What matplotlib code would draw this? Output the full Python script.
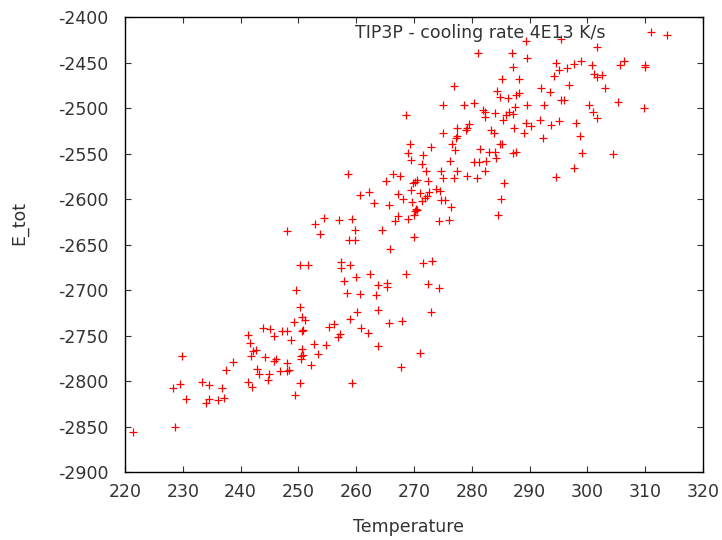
import matplotlib
matplotlib.use('Agg')
import matplotlib.pyplot as plt

# Temperature / E_tot pairs
temperature = [
    221.4, 228.6, 229.9, 228.3, 229.6, 230.6, 233.3, 234.5, 236.8, 234.1,
    234.5, 236.1, 237.2, 237.5, 238.7,
    258.6, 260.6, 254.4, 257.0, 259.3, 252.8, 248.0, 253.8, 259.8, 258.8,
    259.8, 250.2, 251.6, 257.3, 257.3, 258.9, 257.9, 260.0, 249.6, 258.4,
    260.6, 250.2, 250.6, 251.2, 260.2, 258.9, 256.2,
    249.2, 243.8, 245.1, 245.7, 241.2, 247.2, 248.1, 250.6, 250.8, 248.8,
    241.7, 242.7, 242.2, 241.8, 244.3, 245.8, 246.1, 248.1, 242.9, 243.2,
    244.9, 244.8, 246.9, 248.1, 248.3, 250.7, 250.5, 250.8, 250.4, 252.1,
    252.7, 253.4, 254.8, 255.3, 257.2, 256.9, 241.2, 241.9, 250.3, 249.4,
    259.3,
    276.9, 275.1, 278.6, 280.3, 268.7, 277.4, 279.1, 279.0, 279.6, 275.1,
    277.4, 277.2, 276.5, 277.1, 269.3, 269.0, 269.5, 272.9, 271.5, 271.4,
    276.3, 280.4,
    266.3, 267.6, 265.1, 272.0, 274.6, 277.5, 279.1, 269.9, 270.5, 270.2,
    272.5, 275.0, 277.0, 262.2, 269.4, 271.0, 267.3, 272.6, 273.8, 274.5,
    272.2, 271.9, 274.7, 275.4, 268.1, 263.1, 265.6, 269.6, 271.3, 276.4,
    270.5, 270.2, 270.3, 267.3, 266.8, 269.0, 270.0, 274.4, 276.1, 264.5,
    270.0, 265.8, 271.6, 273.2, 262.4, 268.7, 263.7, 265.3, 265.3, 272.5,
    274.4, 263.5, 263.7, 272.9,
    265.7, 268.0, 260.8, 262.1, 263.7, 271.0, 267.7,
    289.3, 295.5, 281.0, 286.9, 289.5, 287.2, 294.6, 297.6, 298.9, 296.5,
    295.1, 294.2, 300.8, 285.3, 288.2, 292.0, 293.6, 296.9, 284.4, 284.8,
    286.3, 287.6, 288.2, 289.5, 292.5, 295.4, 296.0, 300.2, 287.5, 286.5,
    285.9, 285.4, 287.1, 284.0, 282.2, 282.2, 281.9, 289.3, 290.3, 291.8,
    293.7, 295.0, 298.0, 287.3, 289.1, 283.4, 283.9, 292.4, 298.8, 285.3,
    284.8, 281.4, 282.9, 284.1, 284.2, 287.6, 287.2, 299.1, 282.5, 281.3,
    282.2, 280.9, 285.5, 285.0, 284.5, 294.6, 297.6,
    313.8, 301.6, 305.6, 306.4, 310.0, 310.0, 301.1, 301.7, 302.5, 303.0,
    305.3, 309.8, 301.0, 301.7, 304.5,
]

e_tot = [
    -2856.5, -2850.7, -2773.0, -2807.8, -2803.4, -2820.2, -2800.8, -2804.5, -2807.4, -2823.9,
    -2820.2, -2821.0, -2818.8, -2787.6, -2779.5,
    -2572.4, -2596.0, -2620.7, -2623.0, -2621.9, -2628.0, -2635.4, -2638.0, -2634.6, -2644.5,
    -2644.5, -2672.8, -2672.8, -2669.0, -2676.0, -2672.8, -2690.0, -2686.0, -2700.3, -2702.8,
    -2704.0, -2718.2, -2730.0, -2733.0, -2723.7, -2732.0, -2737.0,
    -2735.5, -2741.7, -2742.4, -2751.0, -2749.0, -2745.4, -2745.4, -2745.4, -2743.5, -2755.3,
    -2758.2, -2765.5, -2767.4, -2773.0, -2774.0, -2777.8, -2775.5, -2780.3, -2786.9, -2792.0,
    -2792.0, -2798.6, -2789.4, -2789.4, -2787.5, -2764.4, -2773.0, -2771.0, -2775.8, -2782.0,
    -2759.0, -2770.0, -2760.0, -2741.0, -2748.0, -2751.7, -2801.5, -2807.0, -2802.3, -2815.0,
    -2802.3,
    -2475.6, -2496.8, -2496.8, -2495.0, -2507.8, -2521.7, -2522.4, -2524.3, -2518.0, -2528.0,
    -2530.6, -2533.4, -2539.0, -2546.3, -2540.0, -2549.3, -2557.3, -2542.7, -2551.8, -2561.0,
    -2558.0, -2559.0,
    -2572.4, -2574.6, -2580.0, -2569.0, -2569.0, -2569.0, -2574.6, -2582.6, -2579.6, -2581.8,
    -2580.0, -2577.0, -2577.0, -2592.5, -2590.0, -2593.6, -2594.3, -2592.5, -2588.9, -2591.0,
    -2597.2, -2599.0, -2601.0, -2601.6, -2599.9, -2604.6, -2606.5, -2603.8, -2602.7, -2609.3,
    -2612.0, -2613.7, -2611.0, -2619.2, -2624.0, -2621.9, -2617.5, -2624.7, -2623.6, -2633.9,
    -2642.0, -2654.9, -2669.8, -2668.0, -2682.4, -2682.7, -2694.5, -2692.6, -2696.3, -2693.7,
    -2697.3, -2706.0, -2722.0, -2723.7,
    -2736.3, -2734.4, -2741.8, -2747.2, -2761.9, -2769.3, -2784.7,
    -2426.0, -2424.6, -2440.0, -2440.0, -2445.5, -2454.7, -2451.0, -2451.7, -2448.4, -2455.8,
    -2458.3, -2464.9, -2453.0, -2468.2, -2468.2, -2477.8, -2482.2, -2474.8, -2481.4, -2487.7,
    -2489.4, -2485.8, -2483.3, -2496.8, -2496.8, -2491.3, -2491.3, -2496.8, -2498.6, -2504.2,
    -2507.8, -2513.3, -2507.0, -2505.3, -2504.2, -2509.7, -2502.3, -2517.0, -2520.0, -2513.3,
    -2518.8, -2514.4, -2517.0, -2522.4, -2527.2, -2524.3, -2528.0, -2532.7, -2530.6, -2539.0,
    -2539.0, -2545.0, -2548.0, -2548.0, -2555.4, -2548.0, -2548.9, -2549.3, -2558.0, -2559.0,
    -2569.0, -2577.1, -2582.6, -2600.2, -2618.1, -2576.3, -2566.1,
    -2419.8, -2432.7, -2452.8, -2448.4, -2452.8, -2454.7, -2463.0, -2465.7, -2463.8, -2478.4,
    -2493.1, -2500.4, -2504.2, -2511.4, -2551.0,
]

x_ticks = list(range(220, 321, 10))
y_ticks = list(range(-2900, -2399, 50))

plt.rcParams['font.family'] = ['DejaVu Sans']
plt.rcParams['axes.unicode_minus'] = False

fs = 12.5
txt_color = '#333333'

fig = plt.figure(figsize=(7.22, 5.40), dpi=100)
ax = fig.add_axes([0.1731, 0.1259, 0.8006, 0.8426])

ax.plot(temperature, e_tot, linestyle='none', marker='+', color='#ff0000',
        markersize=6, markeredgewidth=0.9, label='TIP3P - cooling rate 4E13 K/s')

ax.set_xlim(220, 320)
ax.set_ylim(-2900, -2400)
ax.set_xticks(x_ticks)
ax.set_yticks(y_ticks)
ax.tick_params(direction='in', length=4, width=0.8, top=True, right=True,
               labelsize=fs, colors=txt_color)
ax.tick_params(axis='x', pad=8)
ax.tick_params(axis='y', pad=12)
for sp in ax.spines.values():
    sp.set_linewidth(1.0)

ax.set_xlabel('Temperature', fontsize=fs, color=txt_color)
ax.set_ylabel('E_tot', fontsize=fs, color=txt_color)
ax.xaxis.set_label_coords(0.49, -0.10)
ax.yaxis.set_label_coords(-0.168, 0.548)

ax.legend(loc='upper right', bbox_to_anchor=(0.961, 0.993), frameon=False,
          markerfirst=False, fontsize=fs, handlelength=3, handletextpad=1.09,
          borderpad=0.2, borderaxespad=0, labelcolor=txt_color)

plt.savefig('out.png', dpi=100)
plt.close()
